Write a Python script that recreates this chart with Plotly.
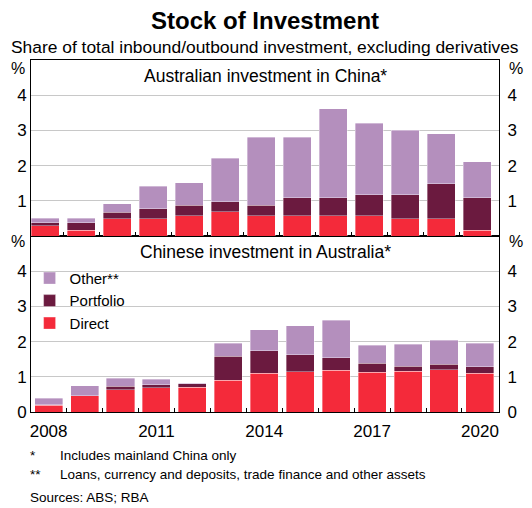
import plotly.graph_objects as go

years = list(range(2008, 2021))

# Australian investment in China (% of total outbound)
aus_direct = [0.29, 0.17, 0.49, 0.49, 0.58, 0.69, 0.58, 0.58, 0.58, 0.58, 0.49, 0.49, 0.17]
aus_portfolio = [0.08, 0.20, 0.19, 0.28, 0.30, 0.28, 0.30, 0.50, 0.50, 0.59, 0.68, 1.00, 0.91]
aus_other = [0.13, 0.13, 0.23, 0.64, 0.63, 1.24, 1.93, 1.73, 2.53, 2.04, 1.84, 1.42, 1.03]

# Chinese investment in Australia (% of total inbound)
chn_direct = [0.19, 0.46, 0.63, 0.69, 0.71, 0.90, 1.10, 1.15, 1.18, 1.13, 1.16, 1.20, 1.10]
chn_portfolio = [0.02, 0.00, 0.10, 0.08, 0.09, 0.68, 0.64, 0.48, 0.36, 0.26, 0.14, 0.16, 0.19]
chn_other = [0.18, 0.29, 0.23, 0.16, 0.01, 0.38, 0.59, 0.82, 1.07, 0.50, 0.62, 0.68, 0.67]

tick_years = [2008, 2011, 2014, 2017, 2020]

c_other = "#b48fbd"
c_port = "#6b1a3f"
c_direct = "#f42a3a"
font = "Liberation Sans, Arial, sans-serif"

fig = go.Figure()
for name, vals, col, ax in [("Direct", aus_direct, c_direct, "y2"),
                            ("Portfolio", aus_portfolio, c_port, "y2"),
                            ("Other**", aus_other, c_other, "y2"),
                            ("Direct", chn_direct, c_direct, "y"),
                            ("Portfolio", chn_portfolio, c_port, "y"),
                            ("Other**", chn_other, c_other, "y")]:
    fig.add_trace(go.Bar(x=years, y=vals, name=name, marker_color=col,
                         marker_line=dict(width=0.6, color="rgba(255,255,255,0.6)"),
                         xaxis="x" if ax == "y" else "x2", yaxis=ax,
                         showlegend=(ax == "y"), legendrank={"Other**": 1, "Portfolio": 2, "Direct": 3}[name]))

# invisible traces so the right-hand axes are drawn
fig.add_trace(go.Scatter(x=[years[0]], y=[0], yaxis="y3", mode="markers",
                         marker_opacity=0, showlegend=False, hoverinfo="skip"))
fig.add_trace(go.Scatter(x=[years[0]], y=[0], xaxis="x2", yaxis="y4", mode="markers",
                         marker_opacity=0, showlegend=False, hoverinfo="skip"))

yax = dict(range=[0, 5], showgrid=True, gridcolor="#c8c8c8", gridwidth=1,
           showline=True, linecolor="black", linewidth=1, ticks="", automargin=False,
           tickfont=dict(size=17, color="black", family=font), zeroline=False, fixedrange=True)
xax = dict(showline=True, linecolor="black", linewidth=1,
           showgrid=False, zeroline=False, tickvals=tick_years, ticks="", automargin=False,
           tickfont=dict(size=17, color="black", family=font), ticklabelstandoff=4,
           minor=dict(tickvals=[y + 0.5 for y in years[:-1]], ticks="inside", ticklen=4,
                      tickcolor="black", showgrid=False))

fig.update_layout(
    width=532, height=508, barmode="stack", bargap=0.22,
    margin=dict(l=31, r=33, t=60, b=96, autoexpand=False),
    plot_bgcolor="white", paper_bgcolor="white",
    font=dict(family=font, color="black"),
    xaxis=dict(xax, anchor="y", mirror=True, range=[2007.51, 2020.53]),
    xaxis2=dict(xax, anchor="y2", showticklabels=False, mirror=True, range=[2007.61, 2020.61]),
    yaxis=dict(yax, domain=[0, 0.5], tickvals=[0, 1, 2, 3, 4]),
    yaxis2=dict(yax, domain=[0.5, 1], tickvals=[1, 2, 3, 4]),
    yaxis3=dict(yax, overlaying="y", side="right", tickvals=[0, 1, 2, 3, 4], showgrid=False,
                ticklabelstandoff=4),
    yaxis4=dict(yax, overlaying="y2", side="right", tickvals=[1, 2, 3, 4], showgrid=False,
                ticklabelstandoff=4),
    legend=dict(x=-0.003, y=0.4265, xanchor="left", yanchor="top", bgcolor="rgba(0,0,0,0)",
                font=dict(size=15, family=font), traceorder="normal", tracegroupgap=0,
                itemwidth=30),
    showlegend=True,
)

ann = [
    dict(text="<b>Stock of Investment</b>", x=0.5, y=20, size=24),
    dict(text="Share of total inbound/outbound investment, excluding derivatives", x=0.5, y=47, size=17.4),
]
for a in ann:
    fig.add_annotation(text=a["text"], xref="paper", yref="paper", x=a["x"],
                       y=1 + (60 - a["y"]) / 352, xanchor="center", yanchor="middle",
                       showarrow=False, font=dict(size=a["size"], family=font, color="black"))

fig.add_annotation(text="Australian investment in China*", xref="paper", yref="paper",
                   x=0.5, y=1 - 16 / 352, showarrow=False, yanchor="middle",
                   font=dict(size=17.5, family=font))
fig.add_annotation(text="Chinese investment in Australia*", xref="paper", yref="paper",
                   x=0.5, y=0.5 - 16 / 352, showarrow=False, yanchor="middle",
                   font=dict(size=17.5, family=font))

for yy in [1 - 9 / 352, 0.5 - 5 / 352]:
    for xx, xa in [(-4 / 468, "right"), (1 + 8 / 468, "left")]:
        fig.add_annotation(text="%", xref="paper", yref="paper", x=xx, y=yy,
                           xanchor=xa, yanchor="middle", showarrow=False,
                           font=dict(size=16, family=font))

notes = [("*", "Includes mainland China only", 455),
         ("**", "Loans, currency and deposits, trade finance and other assets", 474)]
for sym, txt, py in notes:
    fig.add_annotation(text=sym, xref="paper", yref="paper", x=-3 / 468, y=(412 - py) / 352,
                       xanchor="left", yanchor="middle", showarrow=False, font=dict(size=13.5, family=font))
    fig.add_annotation(text=txt, xref="paper", yref="paper", x=27 / 468, y=(412 - py) / 352,
                       xanchor="left", yanchor="middle", showarrow=False, font=dict(size=13.5, family=font))
fig.add_annotation(text="Sources: ABS; RBA", xref="paper", yref="paper", x=-3 / 468, y=(412 - 497) / 352,
                   xanchor="left", yanchor="middle", showarrow=False, font=dict(size=13.5, family=font))

fig.write_html("out.html", config={"displayModeBar": False},
               post_script="document.body.style.margin='0';document.body.style.overflow='hidden';")
